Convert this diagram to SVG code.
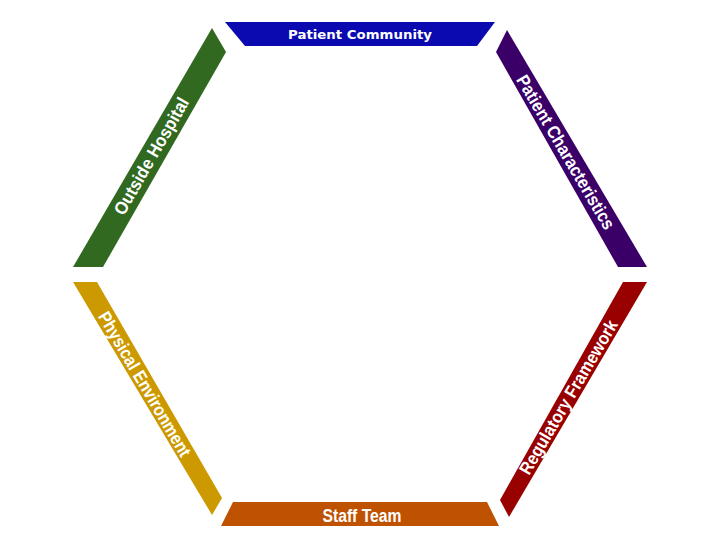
<svg xmlns="http://www.w3.org/2000/svg" width="720" height="540" viewBox="0 0 720 540">
<style>
.lbl{fill:#fff;font-family:"Liberation Sans",Arial,sans-serif;font-weight:bold;font-size:18px;text-anchor:middle}
.top{fill:#fff;font-family:"DejaVu Sans",Verdana,sans-serif;font-weight:bold;font-size:13px;text-anchor:middle}
</style>
<rect width="720" height="540" fill="#fff"/>
<g id="patient-community">
<polygon points="225,22 495,22 477,46 245,46" fill="#0A0AB0"/>
<text class="top" x="360" y="39" textLength="144" lengthAdjust="spacingAndGlyphs">Patient Community</text>
</g>
<g id="outside-hospital">
<polygon points="212,28 226,52 103,267 73,267" fill="#30691F"/>
<text class="lbl" transform="translate(151,156) rotate(-60)" y="6.5" textLength="132" lengthAdjust="spacingAndGlyphs">Outside Hospital</text>
</g>
<g id="patient-characteristics">
<polygon points="507,30 496,52 618,267 647,267" fill="#3B0068"/>
<text class="lbl" transform="translate(566,152) rotate(59.5)" y="6.5" textLength="176" lengthAdjust="spacingAndGlyphs">Patient Characteristics</text>
</g>
<g id="physical-environment">
<polygon points="73,282 97,282 222,498 212,515" fill="#CC9A00"/>
<text class="lbl" transform="translate(145,384) rotate(59.5)" y="6.5" textLength="165" lengthAdjust="spacingAndGlyphs">Physical Environment</text>
</g>
<g id="regulatory-framework">
<polygon points="623,282 647,282 509,517 500,500" fill="#990000"/>
<text class="lbl" transform="translate(568,397) rotate(-59.5)" y="6.5" textLength="176" lengthAdjust="spacingAndGlyphs">Regulatory Framework</text>
</g>
<g id="staff-team">
<polygon points="233,502 487,502 499,526 221,526" fill="#BF5200"/>
<text class="lbl" x="362" y="521.5" font-size="16" textLength="79" lengthAdjust="spacingAndGlyphs">Staff Team</text>
</g>
</svg>
